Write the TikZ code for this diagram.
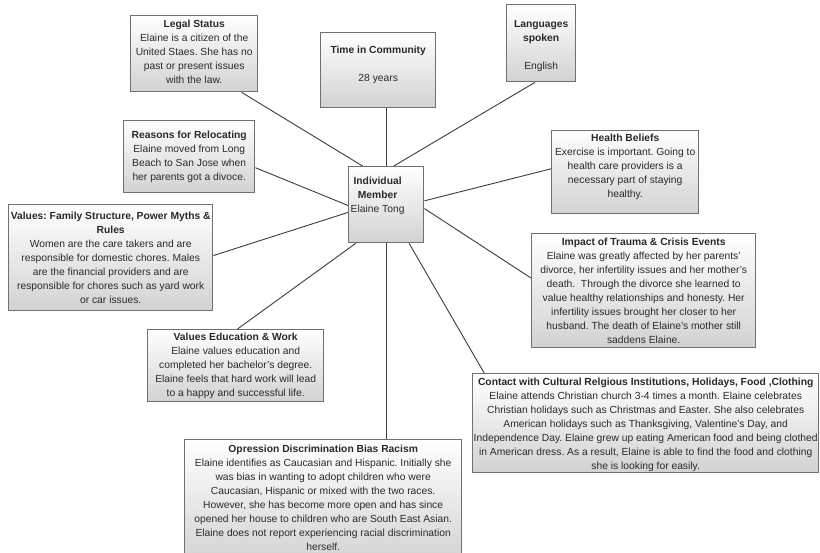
\documentclass[tikz,border=0pt]{standalone}
\usepackage{fontspec}
\setmainfont{Liberation Sans}
\usetikzlibrary{calc}
\definecolor{bord}{HTML}{707070}
\definecolor{ln}{HTML}{3C3C3C}
\definecolor{txt}{HTML}{2A2A2A}
\definecolor{bot}{HTML}{D2D2D2}
\frenchspacing
\newcommand\bxt[4]{\begin{minipage}[t][#2pt][t]{#1pt}\centering\vspace*{#3pt}\strut#4\end{minipage}}
\tikzset{
  cbox/.style={draw=bord, line width=1.4pt, top color=white, bottom color=bot,
    inner sep=0pt, anchor=north west, text=txt,
    font=\fontsize{10.3}{14}\selectfont},
  conn/.style={draw=ln, line width=0.9pt}
}
\begin{document}
\begin{tikzpicture}[x=1pt,y=-1pt]
\useasboundingbox (0,0) rectangle (820,553);
\clip (0,0) rectangle (820,553);
\fill[white] (0,0) rectangle (820,553);

\node[cbox] (legal) at (130,15) {\bxt{127}{76}{2}{\textbf{Legal Status}\\Elaine is a citizen of the\\United Staes. She has no\\past or present issues\\with the law.}};
\node[cbox] (time) at (320,32) {\bxt{115}{75}{11}{\textbf{Time in Community}\\[14pt]28 years}};
\node[cbox] (lang) at (506,4) {\bxt{69}{77}{13}{\textbf{Languages}\\\textbf{spoken}\\[14pt]English}};
\node[cbox] (reasons) at (123,120) {\bxt{131}{72}{8}{\textbf{Reasons for Relocating}\\Elaine moved from Long\\Beach to San Jose when\\her parents got a divoce.}};
\node[cbox] (family) at (8,204) {\bxt{204}{106}{5}{\textbf{Values: Family Structure, Power Myths \&}\\\textbf{Rules}\\Women are the care takers and are\\responsible for domestic chores. Males\\are the financial providers and are\\responsible for chores such as yard work\\or car issues.}};
\node[cbox] (c) at (348,166) {\begin{minipage}[t][76pt][t]{75pt}\vspace*{8pt}\hspace*{2pt}\begin{tabular}[t]{@{}c@{}}\textbf{Individual}\\\textbf{Member}\\Elaine Tong\end{tabular}\end{minipage}};
\node[cbox] (health) at (551,130) {\bxt{147}{83}{1}{\textbf{Health Beliefs}\\Exercise is important. Going to\\health care providers is a\\necessary part of staying\\healthy.}};
\node[cbox] (impact) at (531,233) {\bxt{224}{114}{2}{\textbf{Impact of Trauma \& Crisis Events}\\Elaine was greatly affected by her parents'\\divorce, her infertility issues and her mother's\\death.\ \ Through the divorce she learned to\\value healthy relationships and honesty. Her\\infertility issues brought her closer to her\\husband. The death of Elaine's mother still\\saddens Elaine.}};
\node[cbox] (edu) at (147,329) {\bxt{176}{72}{1}{\textbf{Values Education \& Work}\\Elaine values education and\\completed her bachelor's degree.\\Elaine feels that hard work will lead\\to a happy and successful life.}};
\node[cbox] (contact) at (472,373) {\bxt{346}{99}{2}{\textbf{Contact with Cultural Relgious Institutions, Holidays, Food ,Clothing}\\Elaine attends Christian church 3-4 times a month. Elaine celebrates\\Christian holidays such as Christmas and Easter. She also celebrates\\American holidays such as Thanksgiving, Valentine's Day, and\\Independence Day. Elaine grew up eating American food and being clothed\\in American dress. As a result, Elaine is able to find the food and clothing\\she is looking for easily.}};
\node[cbox] (opp) at (184,439) {\bxt{277}{125}{3}{\textbf{Opression Discrimination Bias Racism}\\Elaine identifies as Caucasian and Hispanic. Initially she\\was bias in wanting to adopt children who were\\Caucasian, Hispanic or mixed with the two races.\\However, she has become more open and has since\\opened her house to children who are South East Asian.\\Elaine does not report experiencing racial discrimination\\herself.}};

\draw[conn] ($(legal.south west)!0.87!(legal.south east)$) -- ($(c.north west)!0.19!(c.north east)$);
\draw[conn] (time.south -| c.north) -- (c.north);
\draw[conn] ($(lang.south west)!0.41!(lang.south east)$) -- ($(c.north west)!0.6!(c.north east)$);
\draw[conn] ($(reasons.north east)!0.65!(reasons.south east)$) -- ($(c.north west)!0.51!(c.south west)$);
\draw[conn] ($(family.north east)!0.48!(family.south east)$) -- ($(c.north west)!0.6!(c.south west)$);
\draw[conn] ($(edu.north west)!0.51!(edu.north east)$) -- ($(c.south west)!0.1!(c.south east)$);
\draw[conn] ($(c.north east)!0.45!(c.south east)$) -- ($(health.north west)!0.46!(health.south west)$);
\draw[conn] ($(c.north east)!0.55!(c.south east)$) -- ($(impact.north west)!0.39!(impact.south west)$);
\draw[conn] ($(c.south west)!0.8!(c.south east)$) -- ($(contact.north west)!0.035!(contact.north east)$);
\draw[conn] (c.south) -- (c.south |- opp.north);
\end{tikzpicture}
\end{document}
